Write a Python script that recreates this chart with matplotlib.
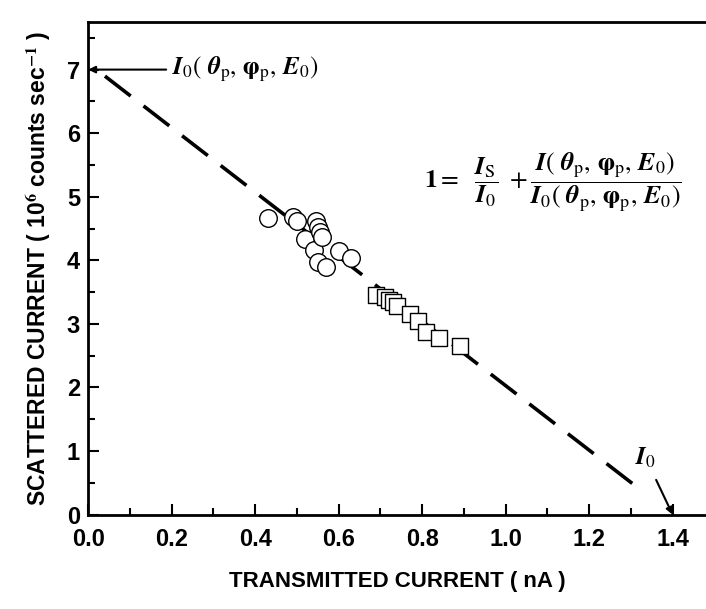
import numpy as np
import matplotlib.pyplot as plt
from matplotlib.ticker import MultipleLocator

# circles (first set) and squares (second set)
circle_x = [0.43, 0.49, 0.50, 0.52, 0.54, 0.545, 0.55, 0.555, 0.56, 0.55, 0.57, 0.60, 0.63]
circle_y = [4.67, 4.68, 4.62, 4.33, 4.17, 4.62, 4.52, 4.45, 4.37, 3.98, 3.90, 4.15, 4.03]
square_x = [0.69, 0.71, 0.72, 0.73, 0.74, 0.77, 0.79, 0.81, 0.84, 0.89]
square_y = [3.45, 3.42, 3.38, 3.35, 3.28, 3.15, 3.05, 2.88, 2.78, 2.65]

# dashed line I_s = I0(theta) * (1 - I / I0)
line_x = [0.04, 1.33]
I0_scatter = 7.1
I0_trans = 1.4

plt.rcParams['font.family'] = ['Liberation Sans', 'DejaVu Sans']
plt.rcParams['mathtext.fontset'] = 'stix'

fig, ax = plt.subplots(figsize=(7.06, 6.09), dpi=100)
fig.subplots_adjust(left=0.125, right=1.0, top=0.964, bottom=0.155)

lx = np.array(line_x)
ax.plot(lx, I0_scatter * (1 - lx / I0_trans), color='black', lw=2.6,
        dashes=(9, 4.5))

ax.scatter(circle_x, circle_y, s=160, marker='o', facecolor='white',
           edgecolor='black', linewidths=1.0, zorder=3)
ax.scatter(square_x, square_y, s=120, marker='s', facecolor='white',
           edgecolor='black', linewidths=1.0, zorder=3)

ax.set_xlim(0, 1.48)
ax.set_ylim(0, 7.75)
ax.xaxis.set_major_locator(MultipleLocator(0.2))
ax.xaxis.set_minor_locator(MultipleLocator(0.1))
ax.yaxis.set_major_locator(MultipleLocator(1))
ax.yaxis.set_minor_locator(MultipleLocator(0.5))
ax.xaxis.set_major_formatter(plt.FormatStrFormatter('%.1f'))
ax.tick_params(which='both', direction='in', top=False, right=False,
               labelsize=17, width=1.5)
ax.tick_params(which='major', length=8)
ax.tick_params(which='minor', length=5)
ax.tick_params(axis='x', pad=10)
ax.tick_params(axis='y', pad=6)
for lab in ax.get_xticklabels() + ax.get_yticklabels():
    lab.set_fontweight('bold')
for sp in ax.spines.values():
    sp.set_linewidth(2)
ax.spines['right'].set_visible(False)

ax.set_xlabel('TRANSMITTED CURRENT ( nA )', fontsize=16, fontweight='bold',
              labelpad=14)
ax.set_ylabel(r'SCATTERED CURRENT ( 10$^{\mathbf{6}}$ counts sec$^{\mathbf{-1}}$ )',
              fontsize=16.5, fontweight='bold', labelpad=10)

ax.annotate(r'$\mathbfit{I}_0(\ \boldsymbol{\theta}_\mathrm{p},\, \boldsymbol{\varphi}_\mathrm{p},\, \mathbfit{E}_0)$',
            xy=(0.0, 7.0), xytext=(0.2, 7.0), fontsize=18, va='center',
            arrowprops=dict(arrowstyle='-|>', color='black', lw=1.5,
                            shrinkA=2, shrinkB=0, mutation_scale=10))
ax.annotate(r'$\mathbfit{I}_\mathit{0}$', xy=(1.40, 0.0), xytext=(1.335, 0.9),
            fontsize=18, ha='center', va='center',
            arrowprops=dict(arrowstyle='-|>', color='black', lw=1.5,
                            shrinkA=6, shrinkB=0, mutation_scale=10))

ax.text(0.805, 5.23,
        r'$\mathbf{1} =\ \ \dfrac{\mathbfit{I}_\mathrm{S}}{\mathbfit{I}_0}\ + '
        r'\dfrac{\mathbfit{I}(\ \boldsymbol{\theta}_\mathrm{p},\, \boldsymbol{\varphi}_\mathrm{p},\, \mathbfit{E}_0)}'
        r'{\mathbfit{I}_0(\ \boldsymbol{\theta}_\mathrm{p},\, \boldsymbol{\varphi}_\mathrm{p},\, \mathbfit{E}_0)}$',
        fontsize=18.5, va='center', ha='left')

fig.savefig('out.png', dpi=100)
